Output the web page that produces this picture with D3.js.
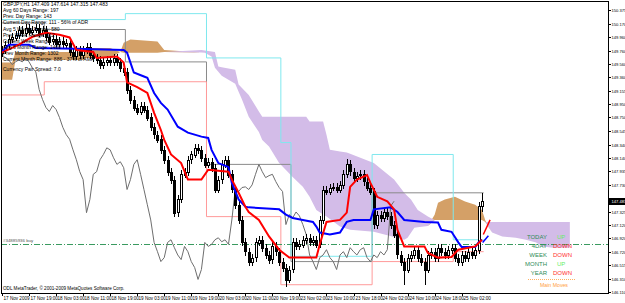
<!DOCTYPE html>
<html>
<head>
<meta charset="utf-8">
<script src="https://cdn.jsdelivr.net/npm/d3@7"></script>
<style>
body{margin:0;background:#fff;}
text{font-family:"Liberation Sans",Arial,sans-serif;}
</style>
</head>
<body>
<svg id="chart" width="625" height="303"></svg>
<script>
'use strict'

// GBPJPY H1 candles, one row per bar: open, high, low, close
var ohlc = [
[149.72,149.83,149.66,149.77],[149.77,149.91,149.71,149.85],[149.85,149.99,149.79,149.93],[149.93,150.02,149.87,149.96],[149.96,150.06,149.90,150.00],
[150.00,150.14,149.94,150.08],[150.08,150.14,149.97,150.03],[150.03,150.17,149.97,150.11],[150.11,150.17,149.99,150.05],[150.05,150.14,149.99,150.08],
[150.08,150.17,150.02,150.11],[150.11,150.17,149.97,150.03],[150.03,150.14,149.97,150.08],[150.08,150.14,149.91,149.97],[149.97,150.03,149.84,149.90],
[149.90,149.99,149.84,149.93],[149.93,149.99,149.79,149.85],[149.85,149.96,149.79,149.90],[149.90,149.96,149.79,149.85],[149.85,149.94,149.79,149.88],
[149.88,149.94,149.68,149.74],[149.74,149.80,149.62,149.68],[149.68,149.83,149.62,149.77],[149.77,149.83,149.64,149.70],[149.70,149.83,149.64,149.77],
[149.77,149.88,149.71,149.82],[149.82,149.88,149.64,149.70],[149.70,149.76,149.59,149.65],[149.65,149.71,149.56,149.62],[149.62,149.68,149.49,149.55],
[149.55,149.65,149.49,149.59],[149.59,149.68,149.53,149.62],[149.62,149.68,149.53,149.59],[149.59,149.71,149.53,149.65],[149.65,149.71,149.53,149.59],
[149.59,149.65,149.44,149.50],[149.50,149.56,149.38,149.44],[149.44,149.50,149.11,149.17],[149.17,149.23,148.96,149.02],[149.02,149.08,148.84,148.90],
[148.90,148.96,148.78,148.84],[148.84,148.99,148.78,148.93],[148.93,148.99,148.81,148.87],[148.87,148.93,148.69,148.75],[148.75,148.81,148.54,148.60],
[148.60,148.66,148.43,148.49],[148.49,148.55,148.36,148.42],[148.42,148.48,148.20,148.26],[148.26,148.32,148.05,148.11],[148.11,148.17,147.87,147.93],
[147.93,147.99,147.75,147.81],[147.81,147.87,147.25,147.31],[147.31,147.57,147.25,147.51],[147.51,147.95,147.45,147.89],[147.89,147.99,147.83,147.93],
[147.93,148.17,147.87,148.11],[148.11,148.25,148.05,148.19],[148.19,148.35,148.13,148.29],[148.29,148.35,148.20,148.26],[148.26,148.32,148.08,148.14],
[148.14,148.20,147.98,148.04],[148.04,148.14,147.98,148.08],[148.08,148.14,147.93,147.99],[147.99,148.05,147.60,147.66],[147.66,147.87,147.60,147.81],
[147.81,148.10,147.75,148.04],[148.04,148.17,147.98,148.11],[148.11,148.17,147.83,147.89],[147.89,147.95,147.60,147.66],[147.66,147.72,147.37,147.43],
[147.43,147.49,147.14,147.20],[147.20,147.26,146.80,146.86],[146.86,146.92,146.66,146.72],[146.72,146.78,146.51,146.57],[146.57,146.69,146.51,146.63],
[146.63,146.92,146.57,146.86],[146.86,146.96,146.80,146.90],[146.90,146.96,146.72,146.78],[146.78,146.84,146.61,146.67],[146.67,146.73,146.54,146.60],
[146.60,146.86,146.54,146.80],[146.80,146.86,146.66,146.72],[146.72,146.78,146.51,146.57],[146.57,146.63,146.42,146.48],[146.48,146.54,146.18,146.30],
[146.30,146.51,146.24,146.45],[146.45,146.92,146.39,146.86],[146.86,146.92,146.74,146.80],[146.80,146.89,146.74,146.83],[146.83,146.96,146.77,146.90],
[146.90,146.99,146.84,146.93],[146.93,146.99,146.81,146.87],[146.87,146.96,146.81,146.90],[146.90,146.96,146.77,146.83],[146.83,147.26,146.77,147.20],
[147.20,147.72,147.14,147.66],[147.66,147.72,147.57,147.63],[147.63,147.75,147.57,147.69],[147.69,147.76,147.63,147.70],[147.70,147.76,147.60,147.66],
[147.66,147.79,147.60,147.73],[147.73,147.95,147.67,147.89],[147.89,148.12,147.83,148.04],[148.04,148.10,147.87,147.93],[147.93,147.99,147.78,147.84],
[147.84,147.93,147.78,147.87],[147.87,147.95,147.81,147.89],[147.89,147.95,147.72,147.78],[147.78,147.84,147.63,147.69],[147.69,147.75,147.57,147.63],
[147.63,147.69,147.07,147.13],[147.13,147.34,147.07,147.28],[147.28,147.34,147.17,147.23],[147.23,147.38,147.17,147.32],[147.32,147.38,147.20,147.26],
[147.26,147.32,147.07,147.13],[147.13,147.19,146.92,146.98],[146.98,147.04,146.61,146.67],[146.67,146.73,146.51,146.57],[146.57,146.63,146.21,146.45],
[146.45,146.69,146.39,146.63],[146.63,146.73,146.57,146.67],[146.67,146.81,146.61,146.75],[146.75,146.81,146.57,146.63],[146.63,146.69,146.51,146.57],
[146.57,146.63,146.21,146.45],[146.45,146.73,146.39,146.67],[146.67,146.78,146.61,146.72],[146.72,146.78,146.57,146.63],[146.63,146.84,146.57,146.78],
[146.78,146.84,146.66,146.72],[146.72,146.78,146.61,146.67],[146.67,146.81,146.61,146.75],[146.75,146.84,146.69,146.78],[146.78,146.84,146.57,146.63],
[146.63,146.69,146.51,146.57],[146.57,146.73,146.51,146.67],[146.67,146.73,146.57,146.63],[146.63,146.78,146.57,146.72],[146.72,146.78,146.61,146.67],
[146.67,146.81,146.61,146.75],[146.75,147.47,146.69,147.41],[147.409,147.614,147.315,147.483]
];

// Tenkan-sen (red) and Kijun-sen (blue): bar index, price
var tenkanBars = [0,5,9,13,17,20,22,27,28,34,36,37,40,43,45,47,48,50,53,55,59,61,67,68,70,72,73,76,79,82,85,93,94,96,100,102,103,105,108,109,111,114,116,117,119,125,126,129,133,135,140,142];
var tenkanVals = [149.73,149.85,149.97,150.03,150.00,149.96,149.77,149.74,149.65,149.67,149.58,149.28,149.21,149.12,148.82,148.56,148.41,148.19,148.06,147.81,147.81,147.96,147.93,147.81,147.61,147.40,147.32,147.20,146.95,146.75,146.63,146.63,146.83,147.17,147.20,147.31,147.70,147.81,147.88,147.76,147.55,147.48,147.36,147.05,146.80,146.80,146.70,146.63,146.64,146.75,146.80,146.90];
var kijunBars = [0,2,8,10,22,36,37,38,39,42,43,45,47,49,52,55,59,61,62,64,67,68,70,72,73,82,84,86,89,92,93,94,97,100,102,104,109,110,115,117,119,125,129,130,133,135,136,140,141,142];
var kijunVals = [149.74,149.85,149.85,149.80,149.79,149.77,149.73,149.58,149.43,149.37,149.35,149.12,148.97,148.87,148.61,148.52,148.46,148.44,148.26,148.06,148.00,147.76,147.51,147.40,147.39,147.36,147.28,147.23,147.20,147.17,147.10,147.01,146.98,147.01,147.17,147.20,147.20,147.36,147.39,147.32,147.20,147.17,147.16,147.05,147.02,146.86,146.79,146.79,146.86,146.90];
// short signal ticks right of the last bar: bar, bar, from price, to price
var tenkanTick = [142.4,144.4,146.98,147.20];
var kijunTick = [142.2,143.9,146.86,146.96];

// Senkou span A / B (already shifted 26 bars ahead)
var spanABars = [0,3,4,24,25,32,35,36,38,46,48,60,62,63,65,69,71,73,76,77,79,82,86,89,91,93,96,100,103,110,119,120,122,126,128,129,131,134,137,140,142,143,145,148,152,155,158,160,163,168];
var spanAVals = [149.58,149.58,149.74,149.74,149.80,149.80,149.74,149.88,149.93,149.90,149.77,149.73,149.67,149.50,149.38,149.26,149.02,148.76,148.53,148.41,148.31,148.06,147.85,147.70,147.55,147.35,147.25,147.10,147.05,147.02,146.90,146.93,147.08,147.11,147.28,147.46,147.51,147.55,147.48,147.43,147.35,147.19,147.01,146.95,146.93,146.90,146.86,146.80,146.78,146.78];
var spanBBars = [0,3,4,24,25,32,35,36,46,48,59,63,64,69,70,73,76,77,90,91,95,96,97,102,110,116,119,121,123,126,128,142,143,168];
var spanBVals = [149.32,149.32,149.62,149.62,149.65,149.65,149.74,149.73,149.73,149.74,149.77,149.74,149.52,149.47,149.25,149.09,148.84,148.76,148.76,148.69,148.69,148.49,148.26,148.22,148.06,147.81,147.61,147.51,147.35,147.25,147.20,147.20,147.17,147.17];

// daily level lines: segment boundaries (bars) and level per segment
var dayEdges = [-0.5,12.5,36.5,60.5,82.5,85.5,109.5,133.5,142.5];
var cyanLevels = [150.23,150.23,150.32,149.65,148.37,146.65,148.19,146.90];
var pinkLevels = [149.09,149.29,149.29,147.25,146.22,146.22,146.57,146.72];
var grayLevels = [150.18,150.08,149.59,148.04,148.04,146.57,147.61,147.61];

var priceTicks = [150.375,150.170,149.960,149.760,149.560,149.360,149.155,148.950,148.750,148.545,148.340,148.140,147.935,147.730,147.530,147.325,147.120,146.920,146.720,146.515,146.310,146.110];
var timeTicks = [0,8,16,24,32,40,48,56,64,72,80,88,96,104,112,120,128,136];
var timeLabels = ['17 Nov 2009','17 Nov 19:00','18 Nov 03:00','18 Nov 11:00','18 Nov 19:00','19 Nov 03:00','19 Nov 11:00','19 Nov 19:00','20 Nov 03:00','20 Nov 11:00','20 Nov 19:00','23 Nov 02:00','23 Nov 10:00','23 Nov 18:00','24 Nov 02:00','24 Nov 10:00','24 Nov 18:00','25 Nov 02:00'];

var infoTop = ['GBPJPY,H1  147.409 147.614 147.315 147.483','Avg 60 Days Range: 197','Prev. Day Range: 143','Current Day Range: 111 - 56% of ADR'];
var infoMid = ['Avg 5 Weeks Range: 580','Prev Week Range: 512','Current Week Range: 382','Avg 6 Month Range: 1460','Prev Month Range: 1302','Current Month Range: 886 - 37% of AMR'];
var spreadText = 'Currency Pair Spread: 7.0';
var trendNames = ['TODAY','4DAY','WEEK','MONTH','YEAR'];
var trendDirs = ['UP','DOWN','DOWN','UP','DOWN'];
var orderPrice = 146.83;
var lastPrice = 147.483;

var W = 625, H = 303;
var plotLeft = 1, plotRight = 608, plotTop = 1, plotBottom = 293;
var svg = d3.select('#chart');
var x = d3.scaleLinear().domain([0,168]).range([2, 2+168*3.38]);
var y = d3.scaleLinear().domain([146.11,150.375]).range([292,10]);

var defs = svg.append('defs');
defs.append('clipPath').attr('id','plotClip').append('rect')
	.attr('x',plotLeft).attr('y',plotTop).attr('width',plotRight-plotLeft).attr('height',plotBottom-plotTop);

svg.append('rect').attr('width',W).attr('height',H).attr('fill','#fff');
var plot = svg.append('g').attr('clip-path','url(#plotClip)');

// cloud: pair the two spans on every bar where either is given
function valueAt(bars, vals, b){
	for(var k=0;k<bars.length-1;k++){
		if(b>=bars[k] && b<=bars[k+1]){
			if(bars[k+1]==bars[k]) return vals[k];
			return vals[k] + (vals[k+1]-vals[k])*(b-bars[k])/(bars[k+1]-bars[k]);
		}
	}
	return vals[vals.length-1];
}
var cloudBars = d3.sort(Array.from(new Set(spanABars.concat(spanBBars))));
var cloud = cloudBars.map(function(b){ return {b:b, a:valueAt(spanABars,spanAVals,b), s:valueAt(spanBBars,spanBVals,b)}; });

plot.append('path').datum(cloud)
	.attr('d', d3.area().x(function(d){return x(d.b);}).y0(function(d){return y(d.a);}).y1(function(d){return y(Math.min(d.a,d.s));}))
	.attr('fill','#d4a067');
plot.append('path').datum(cloud)
	.attr('d', d3.area().x(function(d){return x(d.b);}).y0(function(d){return y(d.s);}).y1(function(d){return y(Math.min(d.a,d.s));}))
	.attr('fill','#d3bce8');

// daily level step lines
function stepPath(levels){
	var pts = [];
	for(var k=0;k<levels.length;k++){
		pts.push([x(dayEdges[k]), y(levels[k])]);
		pts.push([x(dayEdges[k+1]), y(levels[k])]);
	}
	return d3.line()(pts);
}
plot.append('path').attr('d',stepPath(grayLevels)).attr('fill','none').attr('stroke','#8a8a8a').attr('stroke-width',1);
plot.append('path').attr('d',stepPath(pinkLevels)).attr('fill','none').attr('stroke','#ff9a9a').attr('stroke-width',1);
plot.append('path').attr('d',stepPath(cyanLevels)).attr('fill','none').attr('stroke','#7fe8ee').attr('stroke-width',1);

// order line
plot.append('line').attr('x1',plotLeft).attr('x2',plotRight).attr('y1',Math.round(y(orderPrice))+0.5).attr('y2',Math.round(y(orderPrice))+0.5)
	.attr('stroke','#3a9a60').attr('stroke-width',1).attr('stroke-dasharray','6,2,1,2');
svg.append('text').attr('x',3).attr('y',y(orderPrice)-2).attr('font-size',4.4).attr('fill','#555').text('#34885936 buy');

// chikou span: closes drawn 26 bars back
plot.append('path').datum(ohlc.slice(26))
	.attr('d', d3.line().x(function(d,i){return x(i);}).y(function(d){return y(d[3]);}))
	.attr('fill','none').attr('stroke','#6e6e6e').attr('stroke-width',1);

// candles
var candles = plot.append('g').attr('shape-rendering','crispEdges').selectAll('g').data(ohlc).join('g');
candles.append('line')
	.attr('x1',function(d,i){return Math.round(x(i))+0.5;}).attr('x2',function(d,i){return Math.round(x(i))+0.5;})
	.attr('y1',function(d){return y(d[1]);}).attr('y2',function(d){return y(d[2]);})
	.attr('stroke','#000').attr('stroke-width',1);
candles.append('rect')
	.attr('x',function(d,i){return Math.round(x(i))-0.5;})
	.attr('y',function(d){return Math.round(y(Math.max(d[0],d[3])))+0.5;})
	.attr('width',2)
	.attr('height',function(d){return Math.max(Math.round(Math.abs(y(d[0])-y(d[3]))),1);})
	.attr('fill',function(d){return d[3]>=d[0]?'#fff':'#000';})
	.attr('stroke','#000').attr('stroke-width',1);

// tenkan / kijun
function seriesLine(bars, vals){
	return d3.line().x(function(d){return x(d);}).y(function(d,i){return y(vals[i]);})(bars);
}
plot.append('path').attr('d',seriesLine(kijunBars,kijunVals)).attr('fill','none').attr('stroke','#0000ff').attr('stroke-width',2);
plot.append('path').attr('d',seriesLine(tenkanBars,tenkanVals)).attr('fill','none').attr('stroke','#ff0000').attr('stroke-width',2);
plot.append('line').attr('x1',x(kijunTick[0])).attr('x2',x(kijunTick[1])).attr('y1',y(kijunTick[2])).attr('y2',y(kijunTick[3]))
	.attr('stroke','#0000ff').attr('stroke-width',1.5);
plot.append('line').attr('x1',x(tenkanTick[0])).attr('x2',x(tenkanTick[1])).attr('y1',y(tenkanTick[2])).attr('y2',y(tenkanTick[3]))
	.attr('stroke','#ff0000').attr('stroke-width',1.5);

// frame and axes
svg.append('rect').attr('x',plotLeft+0.5).attr('y',plotTop+0.5).attr('width',plotRight-plotLeft).attr('height',plotBottom-plotTop)
	.attr('fill','none').attr('stroke','#000').attr('stroke-width',1);
var lpY = Math.round(y(lastPrice));
priceTicks.forEach(function(p){
	var yy = Math.round(y(p))+0.5;
	svg.append('line').attr('x1',plotRight+0.5).attr('x2',plotRight+3).attr('y1',yy).attr('y2',yy).attr('stroke','#000');
	if(Math.abs(yy-lpY)<6) return;
	svg.append('text').attr('x',plotRight+3.5).attr('y',yy+1.5).attr('font-size',4.1).attr('fill','#000').text(p.toFixed(3));
});
timeTicks.forEach(function(b,k){
	var xx = Math.round(x(b))+0.5;
	svg.append('line').attr('x1',xx).attr('x2',xx).attr('y1',plotBottom+0.5).attr('y2',plotBottom+3).attr('stroke','#000');
	svg.append('text').attr('x',xx+1).attr('y',300).attr('font-size',4.6).attr('fill','#000').text(timeLabels[k]);
});
svg.append('rect').attr('x',plotRight+1).attr('y',lpY-3).attr('width',W-plotRight).attr('height',7).attr('fill','#000');
svg.append('text').attr('x',plotRight+3.5).attr('y',lpY+2).attr('font-size',4.1).attr('fill','#fff').text(lastPrice.toFixed(3));

// info text
infoTop.forEach(function(t,k){
	svg.append('text').attr('x',3).attr('y',6+k*6).attr('font-size',5).attr('fill','#000').text(t);
});
infoMid.forEach(function(t,k){
	svg.append('text').attr('x',3).attr('y',31+k*6).attr('font-size',5).attr('fill','#000').text(t);
});
svg.append('text').attr('x',3).attr('y',71).attr('font-size',5).attr('fill','#000').text(spreadText);
svg.append('text').attr('x',3).attr('y',290).attr('font-size',4.6).attr('fill','#000').text('ODL MetaTrader, \u00a9 2001-2009 MetaQuotes Software Corp.');

trendNames.forEach(function(t,k){
	var yy = 239 + k*9;
	svg.append('text').attr('x',547).attr('y',yy).attr('text-anchor','end').attr('font-size',6).attr('fill','#2e8b57').text(t);
	svg.append('text').attr('x',trendDirs[k]=='UP'?557:553).attr('y',yy).attr('font-size',6)
		.attr('fill',trendDirs[k]=='UP'?'#66ee66':'#ff3030').text(trendDirs[k]);
});
svg.append('line').attr('x1',528).attr('x2',576).attr('y1',279.5).attr('y2',279.5).attr('stroke','#ffb060').attr('stroke-dasharray','1,1');
svg.append('text').attr('x',540).attr('y',287).attr('font-size',5.2).attr('fill','#ffa040').text('Main Moves');
</script>
</body>
</html>
